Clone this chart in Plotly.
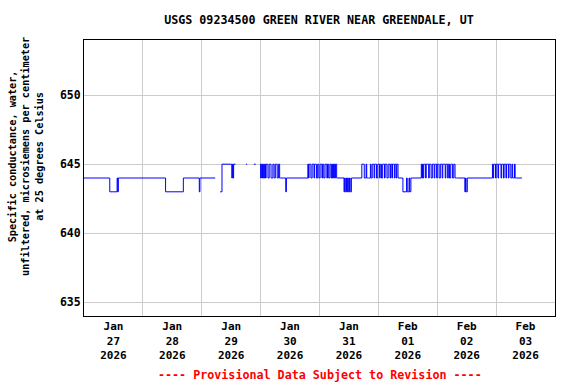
import plotly.graph_objects as go
import pandas as pd

START = "2026-01-27 00:00"

# Change points (hours after START, value in uS/cm); None marks a data gap
step_hours = [0, 10.5, 13.5, 13.75, 14.0, 33.25, 40.5, 47.0, 47.25, 53.5, 53.5,
              55.5, 56.25, 60.25, 60.5, 60.75, 61.0, 61.75, 61.75,
              66.0, 66.5, 66.5, 69.25, 70.0, 70.0,
              80.25, 82.25, 82.5, 103.5, 109.0, 128.25,
              130.0, 131.5, 131.75, 132.5, 132.75, 133.25, 152.5,
              155.25, 155.5, 155.75, 156.25, 176.5, 178.5]
step_values = [644, 643, 644, 643, 644, 643, 644, 643, 644, 644, None,
               643, 645, 644, 645, 644, 645, 645, None,
               645, 645, None, 645, 645, None,
               644, 643, 644, 644, 644, 644,
               643, 644, 643, 644, 643, 644, 644,
               643, 644, 643, 644, 644, 644]

# Rapidly fluctuating stretches, 15-minute readings
block_start_hours = [71.75, 91.25, 106.0, 113.25, 137.5, 166.25]
block_a = [645, 644, 645, 644, 645, 644, 645, 644, 645, 644,
           645, 645, 645, 644, 644, 645, 645, 645, 644, 644,
           644, 645, 645, 644, 644, 645, 645, 645, 644, 644,
           645, 645, 644, 644]
block_b = [645, 644, 645, 645, 645, 644, 644, 645, 645, 645,
           644, 645, 645, 645, 644, 644, 645, 645, 644, 644,
           645, 645, 645, 644, 645, 645, 644, 644, 645, 645,
           645, 644, 645, 645, 644, 644, 645, 645, 644, 645,
           644, 645, 644, 645, 644, 645, 645, 644, 644]
block_c = [643, 644, 643, 643, 644, 643, 644, 643, 643, 644, 643, 643]
block_d = [645, 645, 645, 645, 644, 644, 644, 645, 644, 644,
           644, 644, 644, 644, 645, 644, 644, 645, 645, 645,
           644, 645, 645, 645, 644, 644, 645, 645, 645, 644,
           645, 645, 644, 644, 645, 645, 645, 644, 645, 645,
           645, 644, 644, 645, 645, 645, 644, 645, 645, 644,
           645, 645, 645, 644, 645, 645, 644, 645, 645, 644]
block_e = [645, 644, 645, 644, 645, 645, 645, 644, 645, 645,
           645, 645, 644, 645, 645, 645, 644, 644, 645, 645,
           645, 644, 645, 645, 645, 644, 645, 645, 645, 644,
           644, 645, 645, 645, 644, 645, 645, 645, 645, 644,
           645, 645, 645, 644, 645, 645, 644, 644, 645, 645,
           645, 644, 644, 645, 645, 644, 644, 644, 644, 644]
block_f = [644, 645, 644, 645, 645, 645, 644, 645, 645, 645,
           644, 645, 645, 645, 645, 644, 645, 645, 645, 644,
           645, 645, 645, 644, 645, 645, 645, 644, 645, 645,
           645, 644, 644, 645, 644, 644, 644, 645, 644, 644, 644]
blocks = [block_a, block_b, block_c, block_d, block_e, block_f]

day_ticks = ["2026-01-27 12:00", "2026-01-28 12:00", "2026-01-29 12:00", "2026-01-30 12:00",
             "2026-01-31 12:00", "2026-02-01 12:00", "2026-02-02 12:00", "2026-02-03 12:00"]
day_labels = ["Jan<br>27<br>2026", "Jan<br>28<br>2026", "Jan<br>29<br>2026", "Jan<br>30<br>2026",
              "Jan<br>31<br>2026", "Feb<br>01<br>2026", "Feb<br>02<br>2026", "Feb<br>03<br>2026"]
midnights = ["2026-01-27", "2026-01-28", "2026-01-29", "2026-01-30", "2026-01-31",
             "2026-02-01", "2026-02-02", "2026-02-03", "2026-02-04"]
y_ticks = [635, 640, 645, 650]

# assemble points
pts = list(zip(step_hours, step_values))
for h0, vals in zip(block_start_hours, blocks):
    for i, v in enumerate(vals):
        pts.append((h0 + 0.25 * i, v))
pts.sort(key=lambda p: p[0])
t0 = pd.Timestamp(START)
xs = [t0 + pd.Timedelta(hours=h) for h, _ in pts]
ys = [v for _, v in pts]

FONT = "DejaVu Sans Mono"

fig = go.Figure()
fig.add_trace(go.Scatter(x=xs, y=ys, mode="lines", line=dict(color="#0000ff", width=1, shape="hv"),
                         connectgaps=False, showlegend=False, hoverinfo="skip"))

fig.update_layout(
    width=576, height=384,
    margin=dict(l=84, r=21, t=40, b=68),
    paper_bgcolor="white", plot_bgcolor="white",
    font=dict(family=FONT, size=11, color="black", weight="bold"),
    title=dict(text="USGS 09234500 GREEN RIVER NEAR GREENDALE, UT", x=0.5537, xanchor="center",
               y=1 - 20 / 384, yanchor="middle", yref="container",
               font=dict(family=FONT, size=11.7, color="black", weight="bold")),
    xaxis=dict(range=["2026-01-27", "2026-02-04"], tickmode="array", tickvals=day_ticks,
               ticktext=day_labels, ticks="", showgrid=False, showline=True, mirror=True,
               linecolor="black", linewidth=1, zeroline=False,
               tickfont=dict(family=FONT, size=11, color="black", weight="bold"),
               minor=dict(tickmode="array", tickvals=midnights, showgrid=True,
                          gridcolor="#cccccc", gridwidth=1, ticks="")),
    yaxis=dict(range=[634, 654], tickmode="array", tickvals=y_ticks, ticks="",
               showgrid=True, gridcolor="#cccccc", gridwidth=1, showline=True, mirror=True,
               linecolor="black", linewidth=1, zeroline=False,
               tickfont=dict(family=FONT, size=11.5, color="black", weight="bold")),
)

fig.add_annotation(text="Specific conductance, water,<br>unfiltered, microsiemens per centimeter<br>at 25 degrees Celsius",
                   xref="paper", yref="paper", x=(26 - 84) / 471, y=(316 - 157) / 276,
                   xanchor="center", yanchor="middle", textangle=-90, showarrow=False, align="center",
                   font=dict(family=FONT, size=10.2, color="black", weight="bold"))
fig.add_annotation(text="---- Provisional Data Subject to Revision ----",
                   xref="paper", yref="paper", x=0.5, y=(316 - 375) / 276,
                   xanchor="center", yanchor="middle", showarrow=False,
                   font=dict(family=FONT, size=11.7, color="#ff0000", weight="bold"))

fig.write_html("out.html", config={"displayModeBar": False})

# remove the default page margin so the 576x384 figure sits at the window origin
with open("out.html", encoding="utf-8") as f:
    html = f.read()
html = html.replace("<head>", "<head><style>html,body{margin:0;padding:0;overflow:hidden;}</style>", 1)
with open("out.html", "w", encoding="utf-8") as f:
    f.write(html)
